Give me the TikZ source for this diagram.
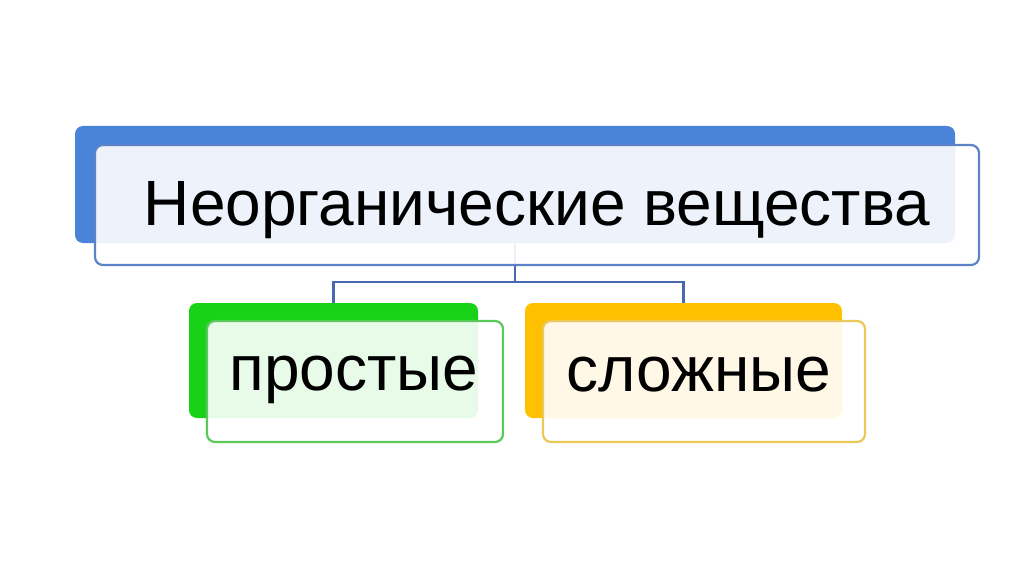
\documentclass[tikz,border=0pt]{standalone}
\usepackage{fontspec}
\setmainfont{Liberation Sans}
\usetikzlibrary{arrows.meta,calc,positioning}
\definecolor{topblue}{RGB}{74,132,216}
\definecolor{topline}{RGB}{92,130,200}
\definecolor{simplegreen}{RGB}{24,210,24}
\definecolor{simpleline}{RGB}{90,200,90}
\definecolor{complexorange}{RGB}{255,192,0}
\definecolor{complexline}{RGB}{236,200,90}
\definecolor{linkblue}{RGB}{72,104,176}
\tikzset{
  backbox/.style={rounded corners=8pt, inner sep=0pt},
  frontbox/.style={rounded corners=8pt, draw, line width=2.2pt, fill=white, fill opacity=0.9, inner sep=0pt},
  label text/.style={font=\fontsize{64}{70}\selectfont, anchor=base, inner sep=0pt},
  link/.style={draw=linkblue, line width=2.4pt},
}
\begin{document}
\begin{tikzpicture}[x=1pt, y=1pt]
\useasboundingbox[fill=white] (0,0) rectangle (1024,574);

% shadow boxes
\node[backbox, fill=topblue, minimum width=880pt, minimum height=117pt] (topback) at (515,389.5) {};
\node[backbox, fill=simplegreen, minimum width=289pt, minimum height=115pt] (simpleback) at (333.5,213.5) {};
\node[backbox, fill=complexorange, minimum width=317pt, minimum height=115pt] (complexback) at (683.5,213.5) {};

% tree links
\draw[link] (topback.south) -- ++(0,-39) coordinate (fork) -| (simpleback.north);
\draw[link] (fork) -| (complexback.north);

% front boxes
\node[frontbox, draw=topline, minimum width=884pt, minimum height=120pt] (top) at (537,369) {};
\node[frontbox, draw=simpleline, minimum width=296pt, minimum height=121pt] (simple) at (355,192.5) {};
\node[frontbox, draw=complexline, minimum width=322pt, minimum height=121pt] (complex) at (704,192.5) {};

% labels
\node[label text] (toptext) at (537,349) {Неорганические вещества};
\node[label text] (simpletext) at (354,184) {простые};
\node[label text] (complextext) at (699,183) {сложные};

\end{tikzpicture}
\end{document}
